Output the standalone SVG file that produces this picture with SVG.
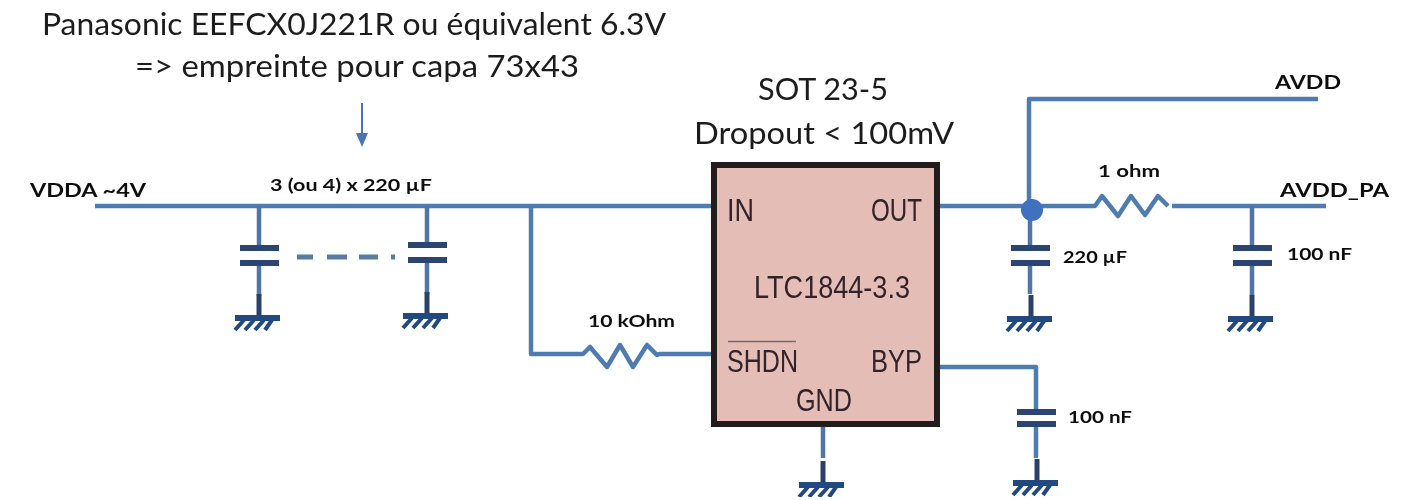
<svg xmlns="http://www.w3.org/2000/svg" width="1413" height="500" viewBox="0 0 1413 500">
<style>
.w{fill:none;stroke:#4f7cb0;stroke-width:4.500;stroke-linejoin:round}
.s{fill:none;stroke:#4f76a6;stroke-width:4.500}
.d{fill:none;stroke:#2a4069;stroke-width:5}
.p{fill:none;stroke:#2b4573;stroke-width:6}
.h{fill:none;stroke:#24497f;stroke-width:4}
.t{font-family:"Lato","Open Sans",sans-serif;fill:#1c1c1c;font-size:31px}
.b{font-family:"Lato","Open Sans",sans-serif;fill:#111;font-size:17px;font-weight:700}
.l{font-size:18px}
.c{font-family:"Liberation Sans",Arial,sans-serif;fill:#33242a;font-size:32px}
</style>
<defs>
<filter id="soft" x="0" y="0" width="100%" height="100%"><feGaussianBlur stdDeviation="0.700"/></filter>
<g id="gnd"><path class="d" d="M0 -24V0"/><path d="M-24 0H21" stroke="#24497f" stroke-width="6" fill="none"/><path class="h" d="M-15 2L-24 12M-5 2L-14 12M5 2L-4 12M13 2L6 12"/></g>
<g id="cap"><path class="p" d="M-19 0H20M-19 15H20"/></g>
</defs>
<g filter="url(#soft)">
<g id="top-note">
<text class="t" x="354" y="35" text-anchor="middle" textLength="624" lengthAdjust="spacingAndGlyphs">Panasonic EEFCX0J221R ou équivalent 6.3V</text>
<text class="t" x="357" y="77" text-anchor="middle" textLength="444" lengthAdjust="spacingAndGlyphs">=&gt; empreinte pour capa 73x43</text>
</g>
<g id="package-note">
<text class="t" x="823" y="100" text-anchor="middle" textLength="130" lengthAdjust="spacingAndGlyphs">SOT 23-5</text>
<text class="t" x="824" y="144" text-anchor="middle" textLength="260" lengthAdjust="spacingAndGlyphs">Dropout &lt; 100mV</text>
</g>
<g id="connectors">
<path d="M362 103V136" fill="none" stroke="#4a74b4" stroke-width="2"/>
<path d="M356 133H368L362 147Z" fill="#4a74b4"/>
<path class="w" d="M95 206H711"/>
<path class="s" d="M259 206V248M259 263V296M427 206V245M427 260V294"/>
<path d="M297 257H313M327 257H347M359 257H378M391 257H395" stroke="#5f7aa0" stroke-width="5" fill="none"/>
<path class="w" d="M714 354H659L657 355L647 345L633 367L620 345L607 367L590 347L583 354H531V206"/>
<path class="w" d="M940 206H1095L1102 196L1118 216L1131 196L1145 215L1158 196L1168 206M1172 206H1326"/>
<path class="w" d="M1318 99H1029V206"/>
<path class="s" d="M1030 206V248M1030 263V294M1252 206V248M1252 263V295"/>
<path class="w" d="M938 367H1036V412M1036 424V458"/>
<path class="s" d="M823 427V458"/>
</g>
<g id="vdda-label"><text class="b l" x="30" y="197" textLength="116" lengthAdjust="spacingAndGlyphs">VDDA ~4V</text></g>
<g id="c-bank-label"><text class="b" x="270" y="191" textLength="162" lengthAdjust="spacingAndGlyphs">3 (ou 4) x 220 µF</text></g>
<g id="c1"><use href="#cap" x="259" y="248"/><use href="#gnd" x="259" y="318"/></g>
<g id="c2"><use href="#cap" x="427" y="245"/><use href="#gnd" x="427" y="316"/></g>
<g id="r-shdn-label"><text class="b" x="588" y="327" textLength="87" lengthAdjust="spacingAndGlyphs">10 kOhm</text></g>
<g id="ic">
<rect x="714" y="165" width="223" height="259" fill="#e3bdb6" stroke="#201a1a" stroke-width="6"/>
<text class="c" x="727" y="221" textLength="27" lengthAdjust="spacingAndGlyphs">IN</text>
<text class="c" x="871" y="221" textLength="51" lengthAdjust="spacingAndGlyphs">OUT</text>
<text class="c" x="754" y="298" textLength="156" lengthAdjust="spacingAndGlyphs">LTC1844-3.3</text>
<path d="M728 341.500H796" stroke="#7d6a6c" stroke-width="1.500"/>
<text class="c" x="727" y="372" textLength="71" lengthAdjust="spacingAndGlyphs">SHDN</text>
<text class="c" x="871" y="372" textLength="51" lengthAdjust="spacingAndGlyphs">BYP</text>
<text class="c" x="796" y="411" textLength="56" lengthAdjust="spacingAndGlyphs">GND</text>
</g>
<g id="gnd-ic"><use href="#gnd" x="823" y="485"/></g>
<g id="avdd-label"><text class="b l" x="1275" y="89" textLength="66" lengthAdjust="spacingAndGlyphs">AVDD</text></g>
<g id="avdd-pa-label"><text class="b l" x="1280" y="197" textLength="109" lengthAdjust="spacingAndGlyphs">AVDD_PA</text></g>
<g id="r1-label"><text class="b" x="1098" y="177" textLength="62" lengthAdjust="spacingAndGlyphs">1 ohm</text></g>
<g id="junction"><circle cx="1032" cy="210" r="11" fill="#3f6fc0"/></g>
<g id="c3"><use href="#cap" x="1030" y="248"/><use href="#gnd" x="1031" y="319"/><text class="b" x="1063" y="263" textLength="64" lengthAdjust="spacingAndGlyphs">220 µF</text></g>
<g id="c4"><use href="#cap" x="1252" y="248"/><use href="#gnd" x="1252" y="319"/><text class="b" x="1287" y="260" textLength="65" lengthAdjust="spacingAndGlyphs">100 nF</text></g>
<g id="c5"><path class="p" d="M1017 412H1056M1017 424H1056"/><use href="#gnd" x="1037" y="483"/><text class="b" x="1068" y="423" textLength="64" lengthAdjust="spacingAndGlyphs">100 nF</text></g>
</g>
</svg>
